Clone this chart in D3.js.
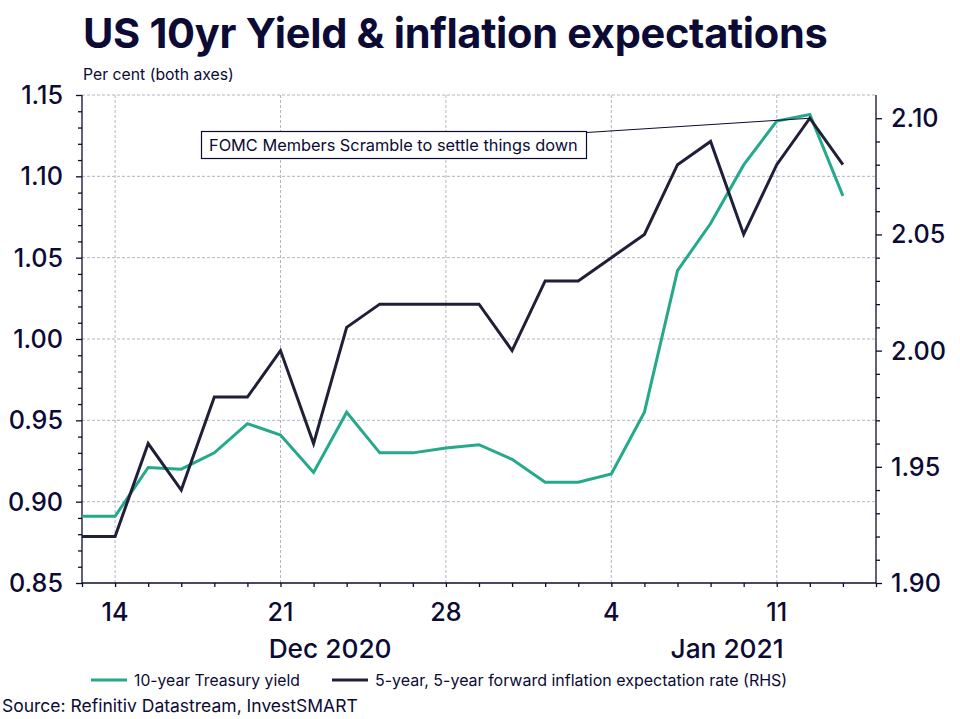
<!DOCTYPE html>
<html><head><meta charset="utf-8">
<script src="https://cdn.jsdelivr.net/npm/d3@7"></script>
<style>
html,body{margin:0;padding:0;background:#fff;}
svg{display:block;font-family:Inter,"Noto Sans",sans-serif;}
</style></head>
<body><svg id="c" width="960" height="719"></svg>
<script>
// ---- data ----
const axisDays = ["2020-12-11","2020-12-14","2020-12-15","2020-12-16","2020-12-17","2020-12-18",
  "2020-12-21","2020-12-22","2020-12-23","2020-12-24","2020-12-25",
  "2020-12-28","2020-12-29","2020-12-30","2020-12-31","2021-01-01",
  "2021-01-04","2021-01-05","2021-01-06","2021-01-07","2021-01-08",
  "2021-01-11","2021-01-12","2021-01-13","2021-01-14"];
const dates = axisDays.slice(0, 24);
const yield10 = [0.891,0.891,0.921,0.920,0.930,0.948,0.941,0.918,0.955,0.930,0.930,0.933,0.935,0.926,0.912,0.912,0.917,0.955,1.042,1.071,1.107,1.134,1.138,1.088];
const breakeven55 = [1.92,1.92,1.96,1.94,1.98,1.98,2.00,1.96,2.01,2.02,2.02,2.02,2.02,2.00,2.03,2.03,2.04,2.05,2.08,2.09,2.05,2.08,2.10,2.08];
const labelDays = ["2020-12-14","2020-12-21","2020-12-28","2021-01-04","2021-01-11"];
const labelText = ["14","21","28","4","11"];
const months = [{label:"Dec 2020", from:"2020-12-11", to:"2021-01-01"},{label:"Jan 2021", from:"2021-01-01", to:"2021-01-14"}];
const leftTicks = [0.85,0.90,0.95,1.00,1.05,1.10,1.15];
const rightTicks = [1.90,1.95,2.00,2.05,2.10];
const seriesNames = ["10-year Treasury yield","5-year, 5-year forward inflation expectation rate (RHS)"];
const annotation = {text:"FOMC Members Scramble to settle things down", date:"2021-01-12"};

// ---- style ----
const navy = "#0b0b35", green = "#25a98b", dark = "#1f1f38", gridC = "#b4b4c4";
const L = 82, R = 876, T = 95, B = 583;

const svg = d3.select("#c");
function fit(sel, w){ const n=sel.node(); const cur=n.getComputedTextLength(); const fs=parseFloat(sel.attr("font-size")); sel.attr("font-size", fs*w/cur); return sel; }
function fitSize(text, w, weight){ const t=svg.append("text").attr("font-size",20).attr("font-weight",weight).text(text); const s=20*w/t.node().getComputedTextLength(); t.remove(); return s; }

const x = d3.scalePoint().domain(axisDays).range([L, R]).padding(0);
const yL = d3.scaleLinear().domain([0.85, 1.15]).range([B, T]);
const yR = d3.scaleLinear().domain([1.90, 2.11]).range([B, T]);

const tickFS = fitSize("0.85", 54, 500);
const monthFS = fitSize("Dec 2020", 123, 500);

// gridlines
const g = svg.append("g");
g.selectAll(".hg").data(leftTicks.filter(v=>v>0.85)).join("line")
  .attr("x1", L).attr("x2", R).attr("y1", d=>yL(d)).attr("y2", d=>yL(d))
  .attr("stroke", gridC).attr("stroke-width",1).attr("stroke-dasharray","3,2");
g.selectAll(".vg").data(labelDays).join("line")
  .attr("x1", d=>x(d)).attr("x2", d=>x(d)).attr("y1", T).attr("y2", B)
  .attr("stroke", gridC).attr("stroke-width",1).attr("stroke-dasharray","3,2");

// axes
const minorL = d3.range(85, 116).map(v=>v/100);
const axL = svg.append("g").attr("transform",`translate(${L},0)`)
  .call(d3.axisLeft(yL).tickValues(minorL).tickSize(4).tickFormat(""));
axL.selectAll("line,path").attr("stroke", navy).attr("stroke-width",1.3);
axL.selectAll(".tick line").filter(d=>Math.round(d*100)%5===0).attr("x2",-6);
axL.select(".domain").attr("d", `M0,${T}V${B}`);
svg.append("g").selectAll("text").data(leftTicks).join("text")
  .attr("x", 63).attr("y", d=>yL(d)).attr("dy","0.36em").attr("text-anchor","end")
  .attr("font-size",tickFS).attr("font-weight",500).attr("fill",navy).text(d=>d.toFixed(2));

const minorR = d3.range(190, 211).map(v=>v/100);
const axR = svg.append("g").attr("transform",`translate(${R},0)`)
  .call(d3.axisRight(yR).tickValues(minorR).tickSize(4).tickFormat(""));
axR.selectAll("line,path").attr("stroke", navy).attr("stroke-width",1.3);
axR.selectAll(".tick line").filter(d=>Math.round(d*100)%5===0).attr("x2",6);
axR.select(".domain").attr("d", `M0,${T}V${B}`);
svg.append("g").selectAll("text").data(rightTicks).join("text")
  .attr("x", 891).attr("y", d=>yR(d)).attr("dy","0.36em").attr("text-anchor","start")
  .attr("font-size",tickFS).attr("font-weight",500).attr("fill",navy).text(d=>d.toFixed(2));

const axB = svg.append("g").attr("transform",`translate(0,${B})`)
  .call(d3.axisBottom(x).tickSize(4).tickFormat(""));
axB.selectAll("line,path").attr("stroke", navy).attr("stroke-width",1.3);
axB.select(".domain").attr("d", `M${L},0H${R}`);
svg.append("g").selectAll("text").data(labelDays).join("text")
  .attr("x", d=>x(d)).attr("y", 621).attr("text-anchor","middle")
  .attr("font-size",tickFS).attr("font-weight",500).attr("fill",navy).text((d,i)=>labelText[i]);
svg.append("g").selectAll("text").data(months).join("text")
  .attr("x", d=>(x(d.from)+x(d.to))/2).attr("y", 658).attr("text-anchor","middle")
  .attr("font-size",monthFS).attr("font-weight",500).attr("fill",navy).text(d=>d.label);

// lines
const lineL = d3.line().x((d,i)=>x(dates[i])).y(d=>yL(d));
const lineR = d3.line().x((d,i)=>x(dates[i])).y(d=>yR(d));
svg.append("path").datum(yield10).attr("d", lineL).attr("fill","none")
  .attr("stroke", green).attr("stroke-width",3).attr("stroke-linejoin","miter");
svg.append("path").datum(breakeven55).attr("d", lineR).attr("fill","none")
  .attr("stroke", dark).attr("stroke-width",3).attr("stroke-linejoin","miter");

// annotation
const ai = dates.indexOf(annotation.date);
const bx = 201.5, by = 131.5, bw = 385, bh = 27;
svg.append("line").attr("x1", bx+bw).attr("y1", by+1).attr("x2", x(annotation.date)).attr("y2", yR(breakeven55[ai]))
  .attr("stroke", navy).attr("stroke-width",1);
svg.append("rect").attr("x",bx).attr("y",by).attr("width",bw).attr("height",bh)
  .attr("fill","#fff").attr("stroke",navy).attr("stroke-width",1.2);
const at = svg.append("text").attr("x", 209).attr("y", 151).attr("font-size",16).attr("fill",navy).text(annotation.text);
fit(at, 369);

// title etc
const tt = svg.append("text").attr("x",83).attr("y",48).attr("font-size",42).attr("font-weight",700)
  .attr("fill",navy).attr("letter-spacing","-0.3").text("US 10yr Yield & inflation expectations");
fit(tt, 745);
const st = svg.append("text").attr("x",83).attr("y",80).attr("font-size",15).attr("fill",navy).text("Per cent (both axes)");
fit(st, 151);

// legend
const leg = [{x:91, tx:134, c:green},{x:332, tx:375, c:dark}];
leg.forEach((d,i)=>{
  svg.append("line").attr("x1",d.x).attr("x2",d.x+36).attr("y1",680).attr("y2",680).attr("stroke",d.c).attr("stroke-width",3);
  const t = svg.append("text").attr("x",d.tx).attr("y",686).attr("font-size",16).attr("fill",navy).text(seriesNames[i]);
  if(i===0) fit(t,166);
});
const src = svg.append("text").attr("x",2).attr("y",712).attr("font-size",16).attr("fill",navy).text("Source: Refinitiv Datastream, InvestSMART");
fit(src, 356);
</script></body></html>
